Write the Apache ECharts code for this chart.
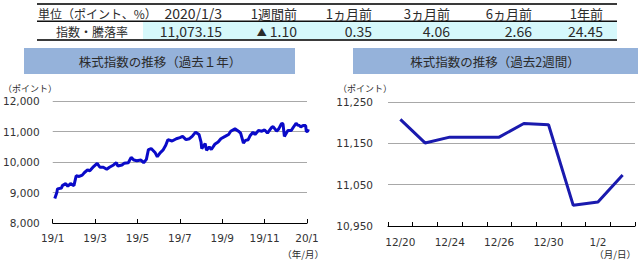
<!DOCTYPE html>
<html><head><meta charset="utf-8">
<script src="https://cdn.jsdelivr.net/npm/echarts@6/dist/echarts.min.js"></script>
<style>html,body{margin:0;padding:0;background:#fff}#c{width:640px;height:260px}</style>
</head><body><div id="c"></div>
<script>
const tableHeaders = ['単位（ポイント、%）', '2020/1/3', '1週間前', '1ヵ月前', '3ヵ月前', '6ヵ月前', '1年前'];
const tableRowLabel = '指数・騰落率';
const tableValues = ['11,073.15', '▲ 1.10', '0.35', '4.06', '2.66', '24.45'];

const leftTitle = '株式指数の推移（過去１年）';
const rightTitle = '株式指数の推移（過去2週間）';

const yearDates = ['2019-01-04','2019-01-07','2019-01-08','2019-01-14','2019-01-15','2019-01-20','2019-01-23','2019-01-27',
'2019-02-01','2019-02-04','2019-02-08','2019-02-12','2019-02-15','2019-02-19','2019-02-22','2019-02-27',
'2019-03-04','2019-03-08','2019-03-13','2019-03-18','2019-03-22','2019-03-28','2019-04-01','2019-04-03',
'2019-04-09','2019-04-12','2019-04-18','2019-04-22','2019-04-26','2019-04-30','2019-05-06','2019-05-10',
'2019-05-14','2019-05-17','2019-05-21','2019-05-27','2019-05-30','2019-06-03','2019-06-07','2019-06-11',
'2019-06-14','2019-06-20','2019-06-26','2019-07-01','2019-07-05','2019-07-10','2019-07-15','2019-07-19',
'2019-07-24','2019-07-29','2019-08-01','2019-08-02','2019-08-07','2019-08-09','2019-08-13','2019-08-16',
'2019-08-21','2019-08-26','2019-08-30','2019-09-05','2019-09-10','2019-09-13','2019-09-19','2019-09-24',
'2019-09-27','2019-10-01','2019-10-04','2019-10-08','2019-10-11','2019-10-15','2019-10-18','2019-10-23',
'2019-10-28','2019-11-01','2019-11-05','2019-11-11','2019-11-13','2019-11-18','2019-11-21','2019-11-25',
'2019-11-27','2019-11-29','2019-12-04','2019-12-09','2019-12-12','2019-12-16','2019-12-19','2019-12-20',
'2019-12-23','2019-12-24','2019-12-27','2019-12-30','2019-12-31','2020-01-02','2020-01-03'];
const yearValues = [8800,9000,9120,9150,9226,9290,9204,9290,
9226,9548,9527,9570,9656,9742,9710,9850,
9957,9828,9828,9764,9828,9903,9978,9871,
9903,9957,9978,10152,10064,10043,10064,9978,
10086,10408,10441,10301,10172,10301,10387,10548,
10732,10687,10764,10800,10839,10732,10764,10839,
10978,10903,10655,10441,10603,10387,10494,10408,
10580,10655,10764,10839,10903,11010,11086,11010,
10946,10624,10710,10732,10871,10978,10903,11032,
11010,11054,10946,11139,11161,11010,11086,11268,
11247,10839,11032,11032,11139,11268,11194,11208,
11151,11165,11198,11195,11000,11008,11073.15];
const yearTickLabels = ['19/1', '19/3', '19/5', '19/7', '19/9', '19/11', '20/1'];

const weekDates = ['12/20', '12/23', '12/24', '12/25', '12/26', '12/27', '12/30', '12/31', '1/2', '1/3'];
const weekValues = [11208, 11151, 11165, 11165, 11165, 11198, 11195, 11000, 11008, 11073.15];

function monthPos(d) {
  const p = d.split('-').map(Number);
  const dim = new Date(p[0], p[1], 0).getDate();
  return (p[0] - 2019) * 12 + (p[1] - 1) + (p[2] - 1) / dim;
}
const yearSeries = yearDates.map((d, i) => [monthPos(d), yearValues[i]]);

const CJK = '"Noto Sans CJK JP", sans-serif';
const NUM = '"DejaVu Sans", sans-serif';
const TXT = '#2b2b2b';

const colRight = [222, 297, 372, 450, 532, 603];
const g = [];
// table
g.push({type:'rect', shape:{x:143, y:22, width:474, height:17}, style:{fill:'#D6F8FB'}, silent:true});
g.push({type:'rect', shape:{x:37, y:3, width:580, height:2}, style:{fill:'#3a3a3a'}, silent:true});
g.push({type:'rect', shape:{x:37, y:20.5, width:580, height:1.5}, style:{fill:'#111'}, silent:true});
g.push({type:'rect', shape:{x:37, y:39, width:580, height:2}, style:{fill:'#3a3a3a'}, silent:true});
g.push({type:'text', x:38, y:13, style:{text:tableHeaders[0], font:'12px ' + CJK, fill:TXT, align:'left', verticalAlign:'middle'}});
for (let i = 1; i < tableHeaders.length; i++) {
  const isNum = /^[0-9/]+$/.test(tableHeaders[i]);
  g.push({type:'text', x:colRight[i-1], y:13, style:{text:tableHeaders[i], font:(isNum ? '14px ' : '13px ') + CJK, fill:TXT, align:'right', verticalAlign:'middle'}});
}
g.push({type:'text', x:92, y:31, style:{text:tableRowLabel, font:'12px ' + CJK, fill:TXT, align:'center', verticalAlign:'middle'}});
tableValues.forEach((v, i) => {
  if (v.charAt(0) === '▲') {
    g.push({type:'text', x:colRight[i], y:31, style:{
      text:'{m|▲}{n|' + v.slice(1) + '}', fill:TXT, align:'right', verticalAlign:'middle',
      rich:{m:{fontSize:10, fontFamily:CJK, fill:TXT}, n:{fontSize:14, fontFamily:CJK, fill:TXT}}}});
  } else {
    g.push({type:'text', x:colRight[i], y:31, style:{text:v, font:'14px ' + CJK, fill:TXT, align:'right', verticalAlign:'middle'}});
  }
});
// title boxes
g.push({type:'rect', shape:{x:24, y:48, width:271, height:26}, style:{fill:'#95B2DA'}, silent:true});
g.push({type:'text', x:160, y:61, style:{text:leftTitle, font:'12.5px ' + CJK, fill:TXT, align:'center', verticalAlign:'middle'}});
g.push({type:'rect', shape:{x:353, y:48, width:285, height:26}, style:{fill:'#95B2DA'}, silent:true});
g.push({type:'text', x:495, y:61, style:{text:rightTitle, font:'12.5px ' + CJK, fill:TXT, align:'center', verticalAlign:'middle'}});
// unit labels
g.push({type:'text', x:3, y:88, style:{text:'（ポイント）', font:'9px ' + CJK, fill:TXT, align:'left', verticalAlign:'middle'}});
g.push({type:'text', x:338, y:88, style:{text:'（ポイント）', font:'9px ' + CJK, fill:TXT, align:'left', verticalAlign:'middle'}});
g.push({type:'text', x:324, y:254, style:{text:'（年/月）', font:'9.5px ' + CJK, fill:TXT, align:'right', verticalAlign:'middle'}});
g.push({type:'text', x:636, y:254, style:{text:'（月/日）', font:'9.5px ' + CJK, fill:TXT, align:'right', verticalAlign:'middle'}});

const axisLbl = {color:'#333', fontSize:10.5, fontFamily:NUM};
const fmt = v => Math.round(v).toLocaleString('en-US');

const option = {
  animation: false,
  backgroundColor: '#fff',
  grid: [
    {left:50, top:101, width:257, height:122},
    {left:388, top:102, width:247, height:124}
  ],
  xAxis: [
    {type:'value', gridIndex:0, min:0, max:12, interval:2,
     axisLine:{show:true, lineStyle:{color:'#000', width:1}},
     axisTick:{show:true, inside:true, length:4, lineStyle:{color:'#000'}},
     axisLabel:Object.assign({margin:9, formatter:v => yearTickLabels[Math.round(v/2)]}, axisLbl),
     splitLine:{show:false}},
    {type:'category', gridIndex:1, data:weekDates, boundaryGap:true,
     axisLine:{show:true, lineStyle:{color:'#000', width:1}},
     axisTick:{show:true, inside:true, length:4, interval:0, lineStyle:{color:'#000'}},
     axisLabel:Object.assign({margin:10, interval:1}, axisLbl),
     splitLine:{show:false}}
  ],
  yAxis: [
    {type:'value', gridIndex:0, min:8000, max:12000, interval:1000,
     axisLine:{show:false}, axisTick:{show:false},
     axisLabel:Object.assign({margin:13, formatter:fmt}, axisLbl),
     splitLine:{lineStyle:{color:'#A8A8A8', width:1}}},
    {type:'value', gridIndex:1, min:10950, max:11250, interval:100,
     axisLine:{show:false}, axisTick:{show:false},
     axisLabel:Object.assign({margin:15, formatter:fmt}, axisLbl),
     splitLine:{lineStyle:{color:'#A8A8A8', width:1}}}
  ],
  series: [
    {type:'line', xAxisIndex:0, yAxisIndex:0, data:yearSeries, showSymbol:false, clip:false,
     lineStyle:{color:'#0A0AC8', width:3}, z:5},
    {type:'line', xAxisIndex:1, yAxisIndex:1, data:weekValues, showSymbol:false,
     lineStyle:{color:'#1A1AAE', width:3}, z:5}
  ],
  graphic: {elements: g}
};
const chart = echarts.init(document.getElementById('c'), null, {renderer:'svg', width:640, height:260});
chart.setOption(option);
</script>
</body></html>
